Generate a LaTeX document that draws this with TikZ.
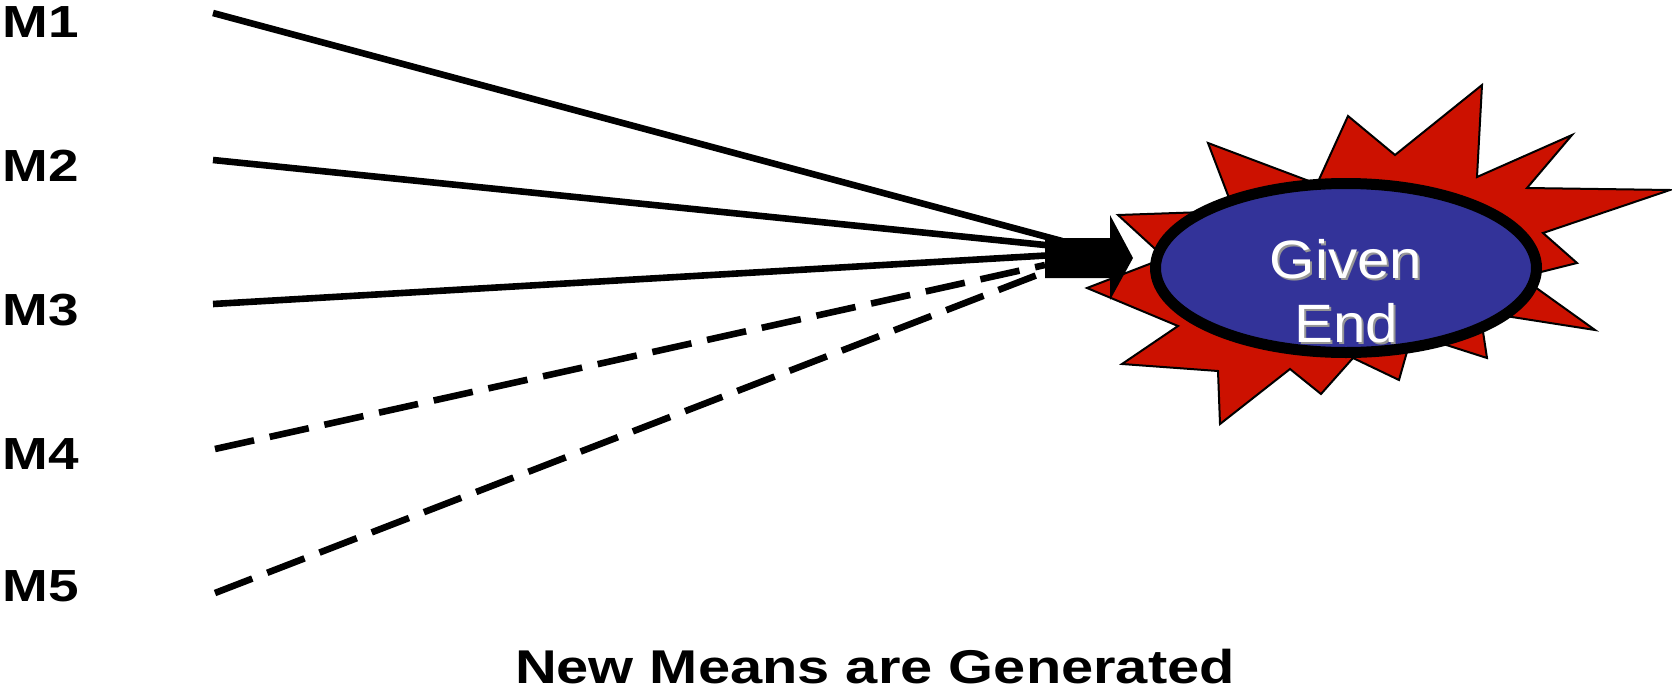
\documentclass[tikz,border=0pt]{standalone}
\usepackage{fontspec}
\usepackage{tikz}
\usetikzlibrary{shapes.geometric}
\setmainfont{Liberation Sans}
\newfontfamily\meansfont[FakeStretch=1.22]{Liberation Sans}
\newfontfamily\goalfont[FakeStretch=1.08]{Liberation Sans}
\definecolor{burstred}{RGB}{204,17,0}
\definecolor{goalblue}{RGB}{51,51,153}
\definecolor{shadowgray}{RGB}{150,150,150}
\newcommand{\shtext}[1]{\leavevmode\rlap{\hspace{1pt}\raisebox{-1pt}{\textcolor{shadowgray}{#1}}}\textcolor{white}{#1}}

\begin{document}
\begin{tikzpicture}[x=0.5pt, y=-0.5pt,
    means/.style={anchor=west, inner sep=0pt, font=\meansfont\bfseries\fontsize{22.5}{26}\selectfont},
    oldmean/.style={line width=3.3pt},
    newmean/.style={line width=3.3pt, dash pattern=on 20pt off 8pt},
    burst/.style={fill=burstred, draw=black, line width=1pt, line join=miter},
    goaltext/.style={anchor=base, inner sep=0pt, font=\goalfont\fontsize{27}{32}\selectfont}]
    \useasboundingbox (0,0) rectangle (1672,691);

    \node (m1) at (2,22) [means] {M1};
    \node (m2) at (2,166) [means] {M2};
    \node (m3) at (2,310) [means] {M3};
    \node (m4) at (2,454) [means] {M4};
    \node (m5) at (2,586) [means] {M5};

    \coordinate (s1) at (213,13);
    \coordinate (s2) at (213,160);
    \coordinate (s3) at (213,304);
    \coordinate (s4) at (215,449);
    \coordinate (s5) at (215,593);

    \coordinate (e1) at (1062,241);
    \coordinate (e2) at (1055,246);
    \coordinate (e3) at (1055,255);
    \coordinate (e4) at (1045,265);
    \coordinate (e5) at (1045,272);

    \draw[oldmean] (s1) -- (e1);
    \draw[oldmean] (s2) -- (e2);
    \draw[oldmean] (s3) -- (e3);
    \draw[newmean] (s4) -- (e4);
    \draw[newmean] (s5) -- (e5);

    \draw[burst] (1482,85) -- (1477,177) -- (1572,135) -- (1527,188) -- (1670,190)
        -- (1543,233) -- (1577,263) -- (1521,277) -- (1595,330) -- (1480,312)
        -- (1487,358) -- (1412,334) -- (1399,380) -- (1353,358) -- (1321,394)
        -- (1290,369) -- (1220,424) -- (1218,371) -- (1122,364) -- (1178,326)
        -- (1087,288) -- (1165,258) -- (1118,215) -- (1234,211) -- (1208,143)
        -- (1317,184) -- (1348,116) -- (1395,155) -- cycle;

    \node (goal) at (1346,268) [ellipse, draw, line width=5.5pt, fill=goalblue,
        minimum width=190.5pt, minimum height=84.5pt, inner sep=0pt] {};
    \node (given) at (1346,278) [goaltext] {\shtext{Given}};
    \node (endtxt) at (1346,342) [goaltext] {\shtext{End}};

    \fill (1045,238) -- (1110,238) -- (1110,215) -- (1133,258) -- (1110,300)
        -- (1110,278) -- (1045,278) -- cycle;

    \node (caption) at (875,667) [inner sep=0pt, font=\meansfont\bfseries\fontsize{23.7}{28}\selectfont] {New Means are Generated};
\end{tikzpicture}
\end{document}
